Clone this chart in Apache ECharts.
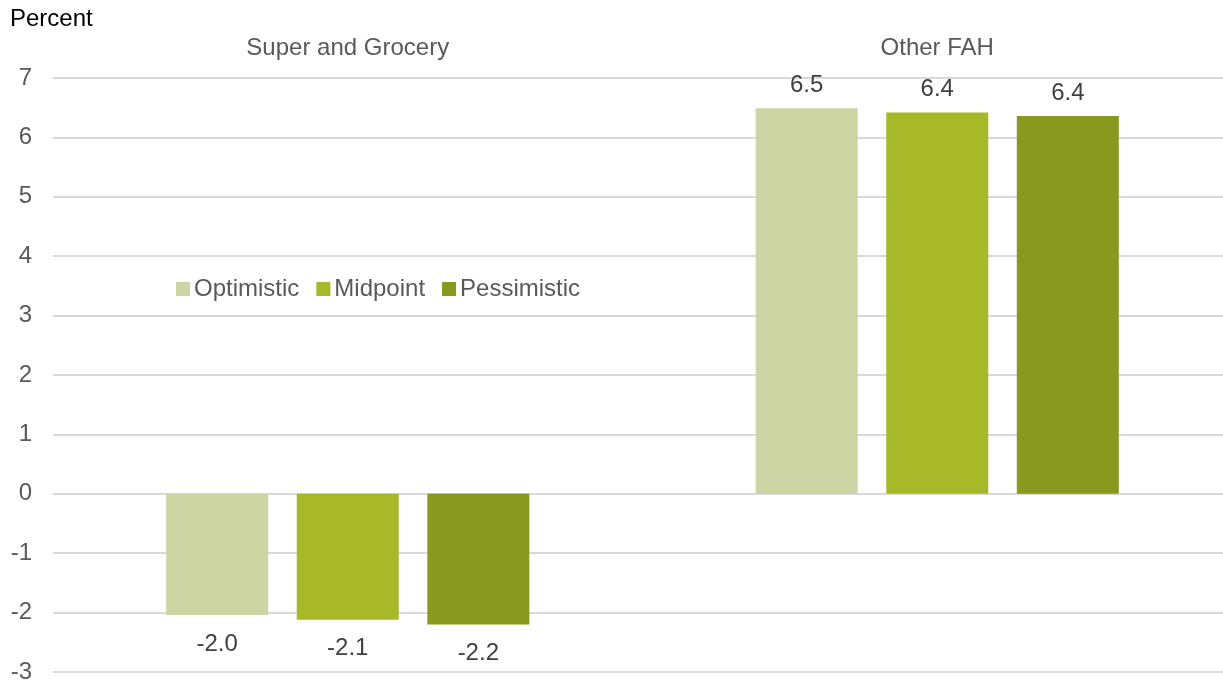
<!DOCTYPE html>
<html>
<head>
<meta charset="utf-8">
<script src="https://cdn.jsdelivr.net/npm/echarts@6/dist/echarts.min.js"></script>
<style>
html, body { margin: 0; padding: 0; background: #fff; }
#chart { width: 1223px; height: 685px; }
</style>
</head>
<body>
<div id="chart"></div>
<script>
// categories and scenario values (percent)
var categories = ['Super and Grocery', 'Other FAH'];
var seriesNames = ['Optimistic', 'Midpoint', 'Pessimistic'];
var optimistic = [-2.04, 6.49];
var midpoint = [-2.12, 6.42];
var pessimistic = [-2.2, 6.36];
var colors = ['#cdd5a5', '#a7b828', '#89991f'];

var font = 'Liberation Sans, Arial, sans-serif';

function buildData(vals) {
	return vals.map(function (v) {
		return {
			value: v,
			label: { position: v < 0 ? 'bottom' : 'top', distance: v < 0 ? 17 : 11 }
		};
	});
}

var chart = echarts.init(document.getElementById('chart'));
chart.setOption({
	animation: false,
	color: colors,
	textStyle: { fontFamily: font },
	title: {
		text: 'Percent',
		left: 5,
		top: 2,
		textStyle: { fontSize: 24, fontWeight: 'normal', color: '#000', fontFamily: font }
	},
	legend: {
		left: 171,
		top: 272,
		itemWidth: 14,
		itemHeight: 14,
		itemGap: 17,
		icon: 'rect',
		textStyle: { fontSize: 24, color: '#595959', fontFamily: font, padding: [0, 0, 0, -1] },
		data: seriesNames
	},
	grid: {
		left: 53,
		right: -9,
		top: 78,
		bottom: 13,
		outerBoundsMode: 'none',
		containLabel: false
	},
	xAxis: {
		type: 'category',
		position: 'top',
		data: categories,
		axisLine: { show: false },
		axisTick: { show: false },
		axisLabel: { color: '#595959', fontSize: 24, margin: 18, fontFamily: font }
	},
	yAxis: {
		type: 'value',
		min: -3,
		max: 7,
		interval: 1,
		axisLine: { show: false },
		axisTick: { show: false },
		axisLabel: { color: '#595959', fontSize: 24, margin: 21, fontFamily: font },
		splitLine: { lineStyle: { color: '#d9d9d9', width: 2 } }
	},
	series: [
		{ name: seriesNames[0], type: 'bar', data: buildData(optimistic) },
		{ name: seriesNames[1], type: 'bar', data: buildData(midpoint) },
		{ name: seriesNames[2], type: 'bar', data: buildData(pessimistic) }
	].map(function (s) {
		s.barWidth = 102;
		s.barGap = '28%';
		s.label = {
			show: true,
			fontSize: 24,
			color: '#404040',
			fontFamily: font,
			formatter: function (p) { return p.value.toFixed(1); }
		};
		return s;
	})
});
</script>
</body>
</html>
